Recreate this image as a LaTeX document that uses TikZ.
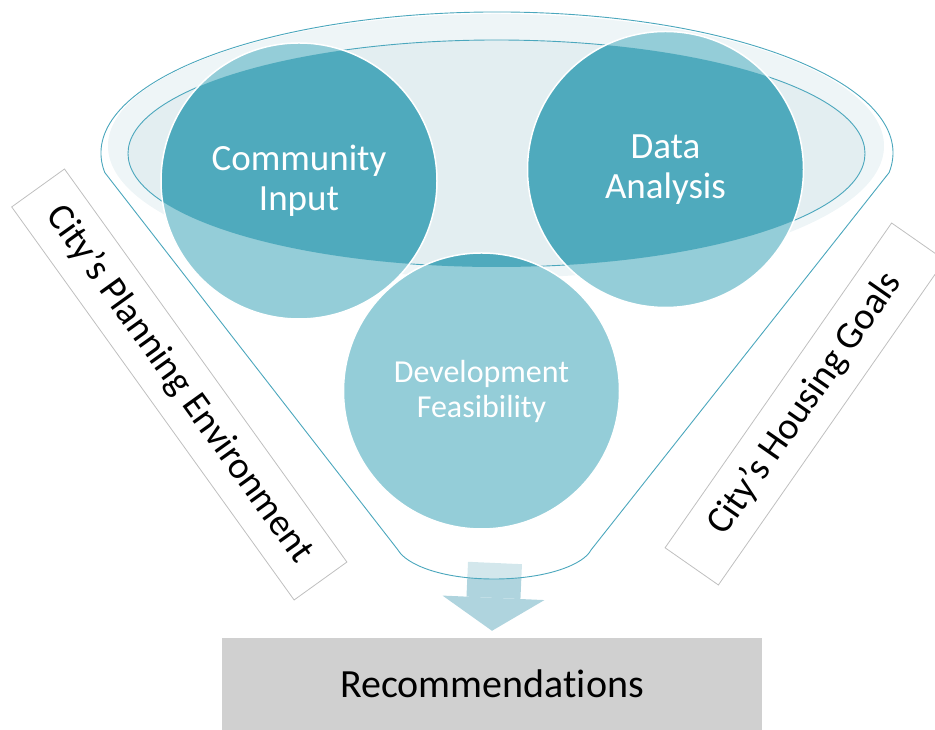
\documentclass[tikz,border=0pt]{standalone}
\usepackage{fontspec}
\setmainfont{Carlito}[Ligatures=NoCommon]
\usepackage{xcolor}
\usepackage{tikz}
\usetikzlibrary{arrows.meta}

\definecolor{funnelline}{HTML}{4BA7BD}
\definecolor{rimfill}{HTML}{EEF5F7}
\definecolor{lidfill}{HTML}{E3EEF1}
\definecolor{darkteal}{HTML}{4FAABD}
\definecolor{lightteal}{HTML}{94CDD8}
\definecolor{flowfill}{HTML}{AFD4DE}
\definecolor{boxline}{HTML}{BFBFBF}
\definecolor{recfill}{HTML}{D0D0D0}

\begin{document}
\begin{tikzpicture}[x=1pt,y=1pt,
	bubble/.style={circle,draw=white,line width=1.5pt,minimum size=276pt,inner sep=0pt,text=white,align=center},
	sidebox/.style={rectangle,draw=boxline,line width=0.8pt,minimum width=#1,minimum height=65pt,font=\fontsize{38}{42}\selectfont},
	flow/.style={line width=54pt,flowfill,-{Triangle[length=33pt,width=102pt,line width=0pt]}}]

	\useasboundingbox (0,0) rectangle (935,730);

	\node[fill=recfill,minimum width=540pt,minimum height=92pt,inner sep=0pt,font=\fontsize{40}{44}\selectfont] (recs) at (492,46) {Recommendations};
	\coordinate (spout) at (495,167);
	\draw[flow] (spout) -- ([yshift=7pt]recs.north);

	\draw[funnelline,fill=white,fill opacity=0.45,line width=0.9pt] (889.1,557.4) arc[start angle=-8,end angle=188,x radius=396pt,y radius=141pt] -- (398,180) .. controls (406,166) and (440,151) .. (494,151) .. controls (548,151) and (584,166) .. (591,180) -- cycle;

	\fill[rimfill] (496,584) ellipse (388pt and 132pt);
	\draw[funnelline,fill=lidfill,line width=0.9pt] (496.5,576.5) ellipse (368.5pt and 113.5pt);

	\coordinate (c1) at (299,549);
	\coordinate (c2) at (665.5,560.5);
	\coordinate (c3) at (481.5,339);
	\foreach \c in {c1,c2,c3}
		\fill[lightteal] (\c) circle (138pt);
	\begin{scope}
		\clip (496.5,576.5) ellipse (368.5pt and 113.5pt);
		\foreach \c in {c1,c2,c3}
			\fill[darkteal] (\c) circle (138pt);
	\end{scope}

	\node[bubble,font=\fontsize{37}{40}\selectfont] (community) at (c1) {Community\\Input};
	\node[bubble,font=\fontsize{37}{40}\selectfont] (analysis) at (c2) {Data\\Analysis};
	\node[bubble,font=\fontsize{32}{35}\selectfont] (feasibility) at (c3) {Development\\Feasibility};

	\node[sidebox=484pt,rotate=-54.3] (planning) at (179.3,345.5) {City’s Planning Environment};
	\node[sidebox=396pt,rotate=55.1] (housing) at (805,326) {City’s Housing Goals};
\end{tikzpicture}
\end{document}
